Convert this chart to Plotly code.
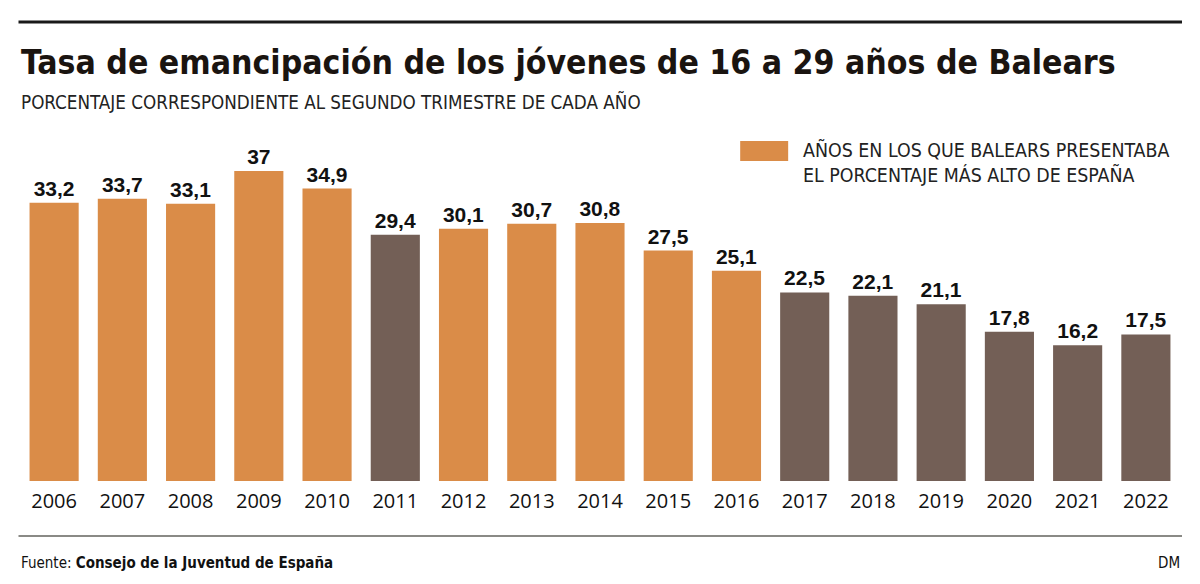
import plotly.graph_objects as go

years = ["2006", "2007", "2008", "2009", "2010", "2011", "2012", "2013", "2014",
         "2015", "2016", "2017", "2018", "2019", "2020", "2021", "2022"]
values = [33.2, 33.7, 33.1, 37, 34.9, 29.4, 30.1, 30.7, 30.8,
          27.5, 25.1, 22.5, 22.1, 21.1, 17.8, 16.2, 17.5]
highest_in_spain = [True, True, True, True, True, False, True, True, True,
                    True, True, False, False, False, False, False, False]

ORANGE = "#DA8C48"
BROWN = "#735F56"
NARROW = "Liberation Sans Narrow, Arial Narrow, DejaVu Sans Condensed, sans-serif"

W, H = 1200, 584
ML, MR, MT, MB = 19.5, 20, 140, 103

def px(x):
    return (x - ML) / (W - ML - MR)

def py(y):
    return (H - MB - y) / (H - MT - MB)

colors = [ORANGE if h else BROWN for h in highest_in_spain]
labels = [f"{v:g}".replace(".", ",") for v in values]

fig = go.Figure(go.Bar(
    x=years, y=values, marker=dict(color=colors, line=dict(width=0)),
    text=labels, textposition="outside", cliponaxis=False,
    textfont=dict(family="Liberation Sans, Arial, sans-serif", size=21,
                  color="#111111", weight="bold"),
    hoverinfo="skip",
))

fig.update_layout(
    width=W, height=H,
    margin=dict(l=ML, r=MR, t=MT, b=MB),
    paper_bgcolor="white", plot_bgcolor="white",
    bargap=0.28, showlegend=False,
    xaxis=dict(showgrid=False, showline=False, zeroline=False, ticks="",
               tickfont=dict(family="Open Sans, sans-serif", size=20, color="#111111"),
               ticklabelstandoff=6),
    yaxis=dict(range=[0, 40.7], visible=False),
    font=dict(family=NARROW, color="#111111"),
)

shapes = [
    dict(type="line", xref="paper", yref="paper", x0=px(18), x1=px(1182),
         y0=py(22), y1=py(22), line=dict(color="#1a1a1a", width=3)),
    dict(type="line", xref="paper", yref="paper", x0=px(18), x1=px(1182),
         y0=py(536), y1=py(536), line=dict(color="#8a8a86", width=2)),
    dict(type="rect", xref="paper", yref="paper", x0=px(740), x1=px(788),
         y0=py(161), y1=py(141), fillcolor=ORANGE, line=dict(width=0)),
]

annotations = [
    dict(text="<b>Tasa de emancipación de los jóvenes de 16 a 29 años de Balears</b>",
         xref="paper", yref="paper", x=px(18), y=py(62), xanchor="left", yanchor="middle",
         showarrow=False, font=dict(family=NARROW, size=33.5, color="#1a1410")),
    dict(text="PORCENTAJE CORRESPONDIENTE AL SEGUNDO TRIMESTRE DE CADA AÑO",
         xref="paper", yref="paper", x=px(18), y=py(102), xanchor="left", yanchor="middle",
         showarrow=False, font=dict(family=NARROW, size=18.7, color="#222222")),
    dict(text="AÑOS EN LOS QUE BALEARS PRESENTABA<br>EL PORCENTAJE MÁS ALTO DE ESPAÑA",
         xref="paper", yref="paper", x=px(801), y=py(163), xanchor="left", yanchor="middle",
         align="left", showarrow=False,
         font=dict(family=NARROW, size=19.4, color="#222222")),
    dict(text="Fuente: <b>Consejo de la Juventud de España</b>",
         xref="paper", yref="paper", x=px(18), y=py(563), xanchor="left", yanchor="middle",
         showarrow=False, font=dict(family=NARROW, size=15, color="#111111")),
    dict(text="DM",
         xref="paper", yref="paper", x=px(1182), y=py(563), xanchor="right", yanchor="middle",
         showarrow=False, font=dict(family=NARROW, size=15, color="#111111")),
]

fig.update_layout(shapes=shapes, annotations=annotations)
fig.write_html("out.html", config={"displayModeBar": False},
               post_script="document.body.style.margin='0';document.body.style.overflow='hidden';")
